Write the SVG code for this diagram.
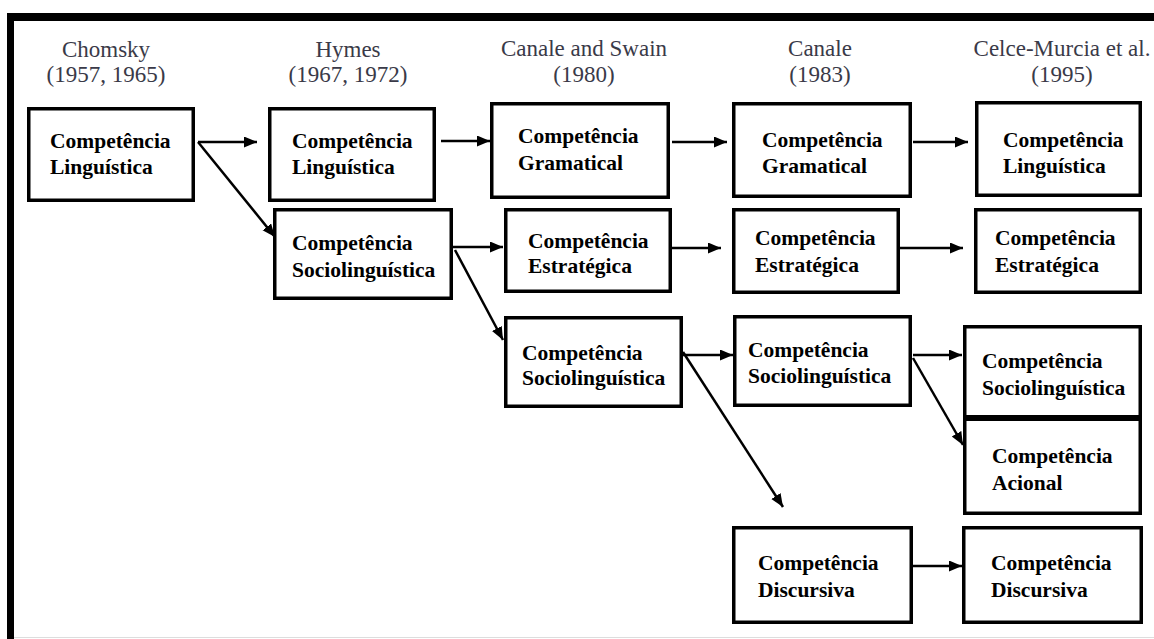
<svg xmlns="http://www.w3.org/2000/svg" width="1154" height="639" viewBox="0 0 1154 639" font-family="Liberation Serif, Tinos, DejaVu Serif, Times New Roman, serif">
<style>
.hd{font-size:23px;fill:#3a3a48;text-anchor:middle}
.bx{fill:#fff;stroke:#000;stroke-width:3.5}
.tx{font-size:21.5px;font-weight:bold;fill:#000}
.cn{stroke:#000;stroke-width:2.5;fill:none;marker-end:url(#ah)}
</style>
<defs>
<marker id="ah" markerUnits="userSpaceOnUse" markerWidth="14" markerHeight="12" refX="13" refY="5.5" orient="auto">
<path d="M0,0 L13,5.5 L0,11 z" fill="#000"/>
</marker>
</defs>
<rect x="0" y="0" width="1154" height="639" fill="#fff"/>
<g id="frame">
<rect x="7" y="13" width="1147" height="8" fill="#000"/>
<rect x="7" y="13" width="7" height="626" fill="#000"/>
<line x1="14" y1="637.5" x2="1154" y2="637.5" stroke="#ddd" stroke-width="1"/>
</g>
<g id="headers" font-family="Liberation Serif, DejaVu Serif, serif">
<text class="hd" x="106" y="57">Chomsky</text><text class="hd" x="106" y="82">(1957, 1965)</text>
<text class="hd" x="348" y="57">Hymes</text><text class="hd" x="348" y="82">(1967, 1972)</text>
<text class="hd" x="584" y="56">Canale and Swain</text><text class="hd" x="584" y="82">(1980)</text>
<text class="hd" x="820" y="56">Canale</text><text class="hd" x="820" y="82">(1983)</text>
<text class="hd" x="1062" y="56">Celce-Murcia et al.</text><text class="hd" x="1062" y="82">(1995)</text>
</g>
<g id="connectors">
<line class="cn" x1="198" y1="142" x2="257" y2="142"/>
<line class="cn" x1="198" y1="142" x2="275" y2="237"/>
<line class="cn" x1="441" y1="141" x2="490" y2="141"/>
<line class="cn" x1="453" y1="247" x2="503" y2="247"/>
<line class="cn" x1="455" y1="250" x2="503" y2="340"/>
<line class="cn" x1="672" y1="142" x2="727" y2="142"/>
<line class="cn" x1="913" y1="142" x2="968" y2="142"/>
<line class="cn" x1="672" y1="248" x2="721" y2="248"/>
<line class="cn" x1="900" y1="248" x2="963" y2="248"/>
<line class="cn" x1="683" y1="355" x2="733" y2="355"/>
<line class="cn" x1="683" y1="352" x2="783" y2="507"/>
<line class="cn" x1="913" y1="355" x2="962" y2="355"/>
<line class="cn" x1="913" y1="358" x2="963" y2="445"/>
<line class="cn" x1="913" y1="566" x2="962" y2="566"/>
</g>
<g id="chomsky_ling"><rect class="bx" x="28.75" y="108.75" width="164.5" height="91.5"/><text class="tx" x="50" y="148">Competência</text><text class="tx" x="50" y="174">Linguística</text></g>
<g id="hymes_ling"><rect class="bx" x="269.75" y="108.75" width="164.5" height="91.5"/><text class="tx" x="292" y="148">Competência</text><text class="tx" x="292" y="174">Linguística</text></g>
<g id="cs_gram"><rect class="bx" x="491.75" y="103.75" width="176.5" height="93.5"/><text class="tx" x="518" y="143">Competência</text><text class="tx" x="518" y="170">Gramatical</text></g>
<g id="canale_gram"><rect class="bx" x="733.75" y="103.75" width="176.5" height="92.5"/><text class="tx" x="762" y="147">Competência</text><text class="tx" x="762" y="173">Gramatical</text></g>
<g id="celce_ling"><rect class="bx" x="976.75" y="102.75" width="163.5" height="92.5"/><text class="tx" x="1003" y="147">Competência</text><text class="tx" x="1003" y="173">Linguística</text></g>
<g id="hymes_socio"><rect class="bx" x="274.75" y="209.75" width="176.5" height="88.5"/><text class="tx" x="292" y="250">Competência</text><text class="tx" x="292" y="277">Sociolinguística</text></g>
<g id="cs_estr"><rect class="bx" x="505.75" y="209.75" width="164.5" height="81.5"/><text class="tx" x="528" y="248">Competência</text><text class="tx" x="528" y="273">Estratégica</text></g>
<g id="canale_estr"><rect class="bx" x="733.75" y="209.75" width="164.5" height="82.5"/><text class="tx" x="755" y="245">Competência</text><text class="tx" x="755" y="272">Estratégica</text></g>
<g id="celce_estr"><rect class="bx" x="975.75" y="209.75" width="164.5" height="82.5"/><text class="tx" x="995" y="245">Competência</text><text class="tx" x="995" y="272">Estratégica</text></g>
<g id="cs_socio"><rect class="bx" x="505.75" y="317.75" width="175.5" height="88.5"/><text class="tx" x="522" y="360">Competência</text><text class="tx" x="522" y="385">Sociolinguística</text></g>
<g id="canale_socio"><rect class="bx" x="734.75" y="316.75" width="175.5" height="88.5"/><text class="tx" x="748" y="357">Competência</text><text class="tx" x="748" y="383">Sociolinguística</text></g>
<g id="celce_socio"><rect class="bx" x="964.75" y="326.75" width="175.5" height="90.5"/><text class="tx" x="982" y="368">Competência</text><text class="tx" x="982" y="395">Sociolinguística</text></g>
<g id="celce_acional"><rect class="bx" x="964.75" y="418.75" width="175.5" height="94.5"/><line x1="963" y1="418" x2="1142" y2="418" stroke="#000" stroke-width="6"/><text class="tx" x="992" y="463">Competência</text><text class="tx" x="992" y="490">Acional</text></g>
<g id="canale_disc"><rect class="bx" x="733.75" y="527.75" width="177.5" height="94.5"/><text class="tx" x="758" y="570">Competência</text><text class="tx" x="758" y="597">Discursiva</text></g>
<g id="celce_disc"><rect class="bx" x="963.75" y="527.75" width="177.5" height="94.5"/><text class="tx" x="991" y="570">Competência</text><text class="tx" x="991" y="597">Discursiva</text></g>
</svg>
